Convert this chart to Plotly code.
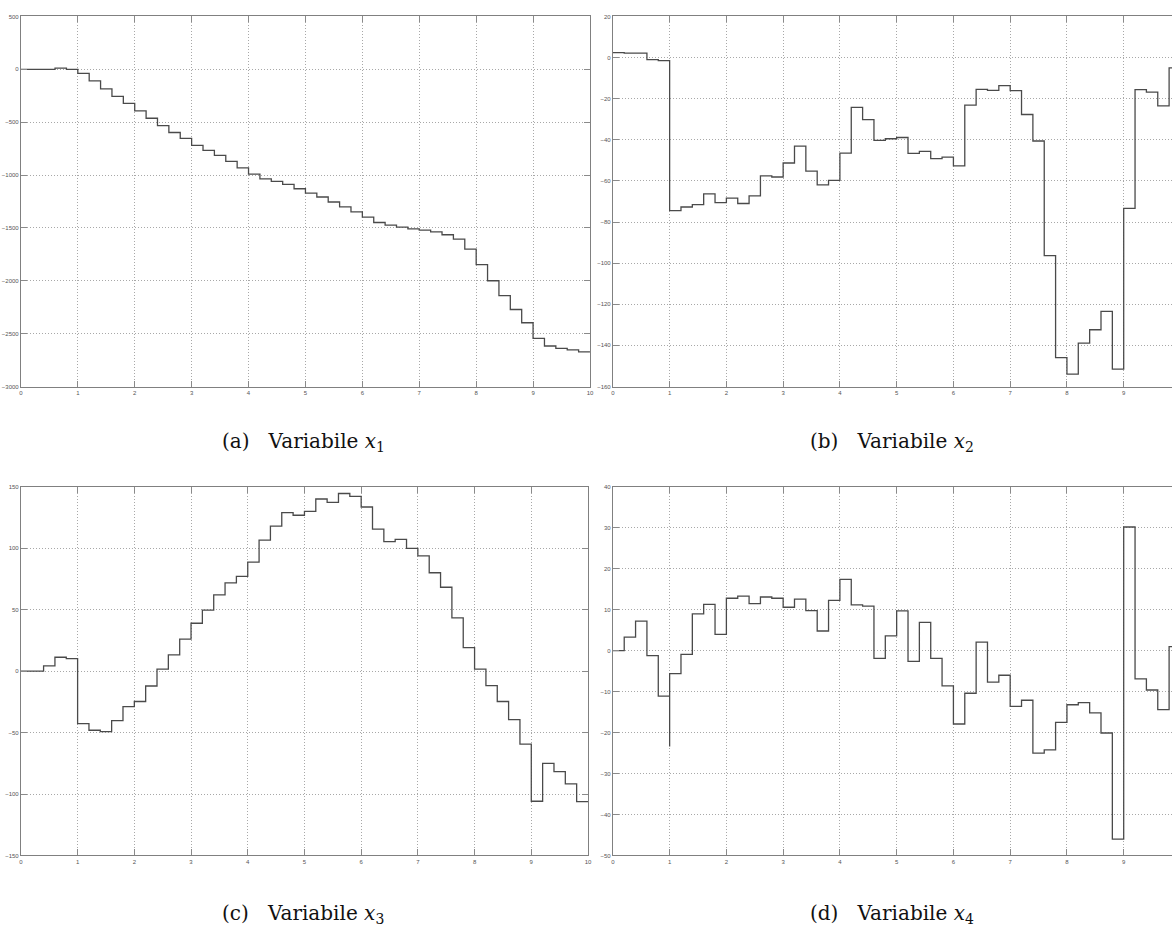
import plotly.graph_objects as go

# sample times (step width 0.2 s)
t = [round(0.2 * i, 1) for i in range(51)]

x1 = [0, 0, 0, 10, 0, -38, -110, -185, -257, -322,
      -394, -463, -532, -598, -654, -720, -767, -814, -870, -933,
      -992, -1036, -1061, -1089, -1130, -1171, -1208, -1255, -1302, -1349,
      -1399, -1449, -1474, -1493, -1509, -1521, -1537, -1565, -1606, -1700,
      -1847, -2000, -2141, -2272, -2397, -2545, -2617, -2639, -2654, -2673]

x2 = [2.4, 2.1, 2.1, -1.0, -1.5, -74.5, -72.7, -71.5, -66.3, -70.6,
      -68.4, -71.0, -67.3, -57.6, -58.1, -51.3, -43.1, -55.2, -61.9, -59.7,
      -46.5, -24.2, -30.2, -40.3, -39.5, -38.9, -46.6, -45.6, -49.2, -48.4,
      -52.7, -23.1, -15.5, -16.0, -13.7, -16.1, -27.7, -40.6, -96.3, -146.0,
      -154.0, -138.9, -132.4, -123.5, -151.5, -73.4, -15.6, -16.8, -23.5, -5.0]

x3 = [0, 0, 4.3, 11.3, 10.2, -42.7, -48.1, -49.2, -40.3, -28.8,
      -24.7, -12.1, 1.6, 13.2, 26.1, 39.0, 49.7, 62.1, 71.8, 77.2,
      88.7, 106.7, 118.0, 129.0, 126.9, 130.1, 140.1, 137.4, 144.6, 142.2,
      133.6, 115.6, 105.4, 107.3, 100.0, 93.8, 80.1, 68.3, 43.3, 19.1,
      1.6, -11.8, -24.7, -39.5, -59.4, -105.9, -75.0, -81.7, -91.7, -106.2]

x4 = [0, 3.3, 7.2, -1.2, -11.1, -5.6, -0.9, 9.0, 11.3, 4.0,
      12.8, 13.3, 11.5, 13.1, 12.8, 10.6, 12.6, 9.8, 4.8, 12.3,
      17.4, 11.2, 10.9, -1.9, 3.6, 9.7, -2.6, 6.9, -1.9, -8.6,
      -17.9, -10.4, 2.1, -7.7, -6.0, -13.6, -12.1, -25.0, -24.2, -17.5,
      -13.2, -12.7, -15.2, -20.1, -46.0, 30.2, -6.9, -9.6, -14.4, 1.0]
# short transient at t = 1
x4_spike_t = 1.0
x4_spike_v = -23.4

captions = ["(a)&nbsp;&nbsp;&nbsp;Variabile <i>x</i><sub>1</sub>", "(b)&nbsp;&nbsp;&nbsp;Variabile <i>x</i><sub>2</sub>",
            "(c)&nbsp;&nbsp;&nbsp;Variabile <i>x</i><sub>3</sub>", "(d)&nbsp;&nbsp;&nbsp;Variabile <i>x</i><sub>4</sub>"]
y_ranges = [(-3000, 500), (-160, 20), (-150, 150), (-50, 40)]
y_dticks = [500, 20, 50, 10]

W, H = 1176, 929
def px_x(p): return p / W
def px_y(p): return 1 - p / H

domains = [
    ((19, 591), (386, 13.5)),
    ((614, 1176), (386, 13.5)),
    ((19, 589), (858, 487)),
    ((614, 1176), (858, 487)),
]
x_max = [10, (1176 - 614) / 57.05, 10, (1176 - 614) / 57.05]

fig = go.Figure()
series = [x1, x2, x3, x4]
line = dict(color="#4a4a4a", width=1.3, shape="hv")
for i, s in enumerate(series):
    xs = list(t)
    ys = list(s) + [s[-1]]
    if i == 3:
        k = xs.index(x4_spike_t)
        xs = xs[:k] + [x4_spike_t] + xs[k:]
        ys = ys[:k] + [x4_spike_v] + ys[k:]
    ax = "" if i == 0 else str(i + 1)
    fig.add_trace(go.Scatter(x=xs, y=ys, mode="lines", line=line,
                             xaxis="x" + ax, yaxis="y" + ax,
                             showlegend=False, hoverinfo="skip"))

axis_common = dict(showline=True, linecolor="#808080", linewidth=1,
                   showgrid=True, gridcolor="#a8a8a8", griddash="1px,2px", gridwidth=1,
                   ticks="inside", ticklen=6, tickcolor="#8a8a8a", tickwidth=1,
                   tickfont=dict(family="Liberation Sans Narrow, Liberation Sans, Arial", size=6, color="#555555"),
                   zeroline=False)

layout = dict(width=W, height=H, margin=dict(l=0, r=0, t=0, b=0),
              paper_bgcolor="white", plot_bgcolor="white", showlegend=False)

for i in range(4):
    (xl, xr), (yb, yt) = domains[i]
    ax = "" if i == 0 else str(i + 1)
    xa = dict(axis_common, domain=[px_x(xl), px_x(xr)], range=[0, x_max[i]],
              tick0=0, dtick=1, mirror="allticks", anchor="y" + ax)
    ya = dict(axis_common, domain=[px_y(yb), px_y(yt)], range=list(y_ranges[i]),
              tick0=0, dtick=y_dticks[i], anchor="x" + ax,
              mirror="allticks" if i in (0, 2) else False)
    layout["xaxis" + ax] = xa
    layout["yaxis" + ax] = ya

fig.update_layout(**layout)

cap_pos = [(303, 442), (895, 442), (303, 917), (895, 917)]
for c, (cx, cy) in zip(captions, cap_pos):
    fig.add_annotation(text=c, x=px_x(cx), y=px_y(cy), xref="paper", yref="paper",
                       showarrow=False, xanchor="center", yanchor="middle",
                       font=dict(family="DejaVu Serif, serif", size=20, color="#111111"))

fig.write_html("out.html")
